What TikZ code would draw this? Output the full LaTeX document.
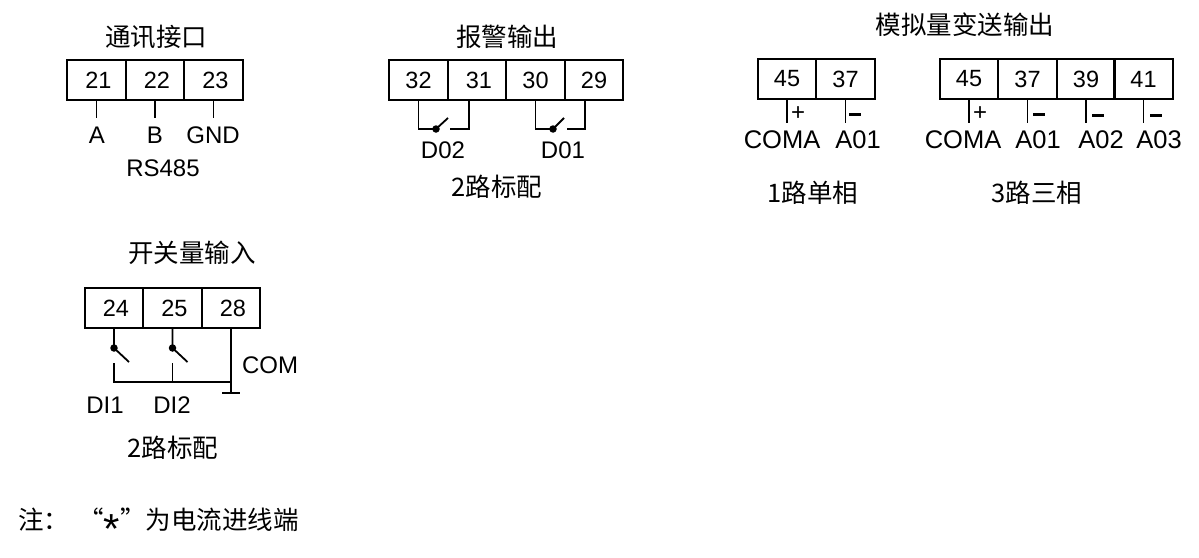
\documentclass[tikz,border=0pt]{standalone}
\usepackage{fontspec}
\setmainfont{Liberation Sans}
\newfontfamily\cjk{Noto Sans CJK SC}
\begin{document}
\begin{tikzpicture}[x=1pt,y=-1pt,
  cell/.style={draw,line width=2pt,minimum width=58.5pt,minimum height=40pt,inner sep=0pt,
    font=\fontsize{23.5}{23.5}\selectfont},
  lead/.style={line width=1.8pt},
  lbl/.style={font=\fontsize{24}{24}\selectfont,inner sep=0pt},
  lblb/.style={font=\fontsize{25.5}{25.5}\selectfont,inner sep=0pt},
  sgn/.style={font=\fontsize{24}{24}\selectfont,inner sep=0pt},
  ttl/.style={font=\cjk\fontsize{25.5}{25.5}\selectfont,inner sep=0pt},
  swdot/.style={circle,fill,inner sep=0pt,minimum size=7.5pt}]
\fill[white] (0,0) rectangle (1199,557);
\useasboundingbox (0,0) rectangle (1199,557);

% ---------- 通讯接口 ----------
\node[ttl] (t1) at (156,37) {通讯接口};
\node[cell] (c21) at (96.5,80) {\,21};
\node[cell] (c22) at (155,80) {\,22};
\node[cell] (c23) at (213.5,80) {\,23};
\node[lbl] (lA) at (97,135) {A};
\node[lbl] (lB) at (155,135) {B};
\node[lbl] (lG) at (213,135) {GND};
\node[lbl] (rs) at (163,168) {RS485};
\draw[lead] (c21.south) -- (c21.south |- 0,118);
\draw[lead] (c22.south) -- (c22.south |- 0,118);
\draw[lead] (c23.south) -- (c23.south |- 0,118);

% ---------- 报警输出 ----------
\node[ttl] (t2) at (507,37) {报警输出};
\node[cell] (c32) at (418.5,80) {32};
\node[cell] (c31) at (477,80) {\,31};
\node[cell] (c30) at (535.5,80) {30};
\node[cell] (c29) at (594,80) {29};
\node[swdot] (d2) at (436,129) {};
\coordinate (d2e) at (448,118);
\coordinate (d2r) at (450,129);
\coordinate (d2c) at (469,129);
\draw[lead] (c32.south) |- (d2.center);
\draw[lead] (d2.center) -- (d2e);
\draw[lead] (d2r) -- (d2c) -- (d2c |- c31.south);
\node[swdot] (d1) at (553,129) {};
\coordinate (d1e) at (564,118);
\coordinate (d1r) at (567,129);
\coordinate (d1c) at (585,129);
\draw[lead] (c30.south) |- (d1.center);
\draw[lead] (d1.center) -- (d1e);
\draw[lead] (d1r) -- (d1c) -- (d1c |- c29.south);
\node[lbl] (lD2) at (443,150) {D02};
\node[lbl] (lD1) at (563,150) {D01};
\node[ttl] (n2) at (497,187) {2路标配};

% ---------- 模拟量变送输出 ----------
\node[ttl] (t3) at (965,25) {模拟量变送输出};
\node[cell] (a45) at (787,79) {45};
\node[cell] (a37) at (845.5,79) {37};
\draw[lead] (a45.south) -- (a45.south |- 0,123);
\draw[lead] (a37.south) -- (a37.south |- 0,123);
\node[sgn] (p1) at (798,114) {+};
\node[inner sep=0pt] (m1) at (855,114) {\rule{12pt}{3pt}};
\node[lblb] (lc1) at (782,140) {COMA};
\node[lblb] (la1) at (858,140) {A01};
\node[ttl] (n3) at (813,193) {1路单相};

\node[cell] (b45) at (969,79) {45};
\node[cell] (b37) at (1027.5,79) {37};
\node[cell] (b39) at (1086,79) {39};
\node[cell] (b41) at (1143.5,79) {41};
\draw[lead] (b45.south) -- (b45.south |- 0,123);
\draw[lead] (b37.south) -- (b37.south |- 0,123);
\draw[lead] (b39.south) -- (b39.south |- 0,123);
\draw[lead] (b41.south) -- (b41.south |- 0,123);
\node[sgn] (p2) at (980,114) {+};
\node[inner sep=0pt] (m2) at (1039,114.5) {\rule{12pt}{3pt}};
\node[inner sep=0pt] (m3) at (1098,115) {\rule{12pt}{3pt}};
\node[inner sep=0pt] (m4) at (1156,115) {\rule{12pt}{3pt}};
\node[lblb] (lc2) at (963,140) {COMA};
\node[lblb] (la2) at (1038,140) {A01};
\node[lblb] (la3) at (1101,140) {A02};
\node[lblb] (la4) at (1159,140) {A03};
\node[ttl] (n4) at (1037,193) {3路三相};

% ---------- 开关量输入 ----------
\node[ttl] (t4) at (192,253) {开关量输入};
\node[cell] (c24) at (114,308) {\,24};
\node[cell] (c25) at (172.5,308) {\,25};
\node[cell] (c28) at (231,308) {\,28};
\node[swdot] (s1) at (114,348) {};
\node[swdot] (s2) at (172.5,348) {};
\coordinate (s1e) at (129,362);
\coordinate (s2e) at (187.5,362);
\coordinate (s1b) at (114,363);
\coordinate (s2b) at (172.5,363);
\coordinate (bus1) at (114,382);
\coordinate (bus2) at (172.5,382);
\coordinate (gnd) at (231,393);
\coordinate (gl) at (222,393);
\coordinate (gr) at (240,393);
\draw[lead] (c24.south) -- (s1.center) -- (s1e);
\draw[lead] (c25.south) -- (s2.center) -- (s2e);
\draw[lead] (s1b) -- (bus1) -- (bus1 -| gnd);
\draw[lead] (s2b) -- (bus2);
\draw[lead] (c28.south) -- (gnd);
\draw[lead] (gl) -- (gr);
\node[lbl] (lcom) at (270,365) {COM};
\node[lbl] (ldi1) at (105,405) {DI1};
\node[lbl] (ldi2) at (172,405) {DI2};
\node[ttl] (n5) at (173,448) {2路标配};

% ---------- 注 ----------
\node[ttl,anchor=west] (note) at (18,526) {注：\hspace{9pt}“\raisebox{-14pt}{\rmfamily\fontsize{42}{42}\selectfont *}”为电流进线端};
\end{tikzpicture}
\end{document}
